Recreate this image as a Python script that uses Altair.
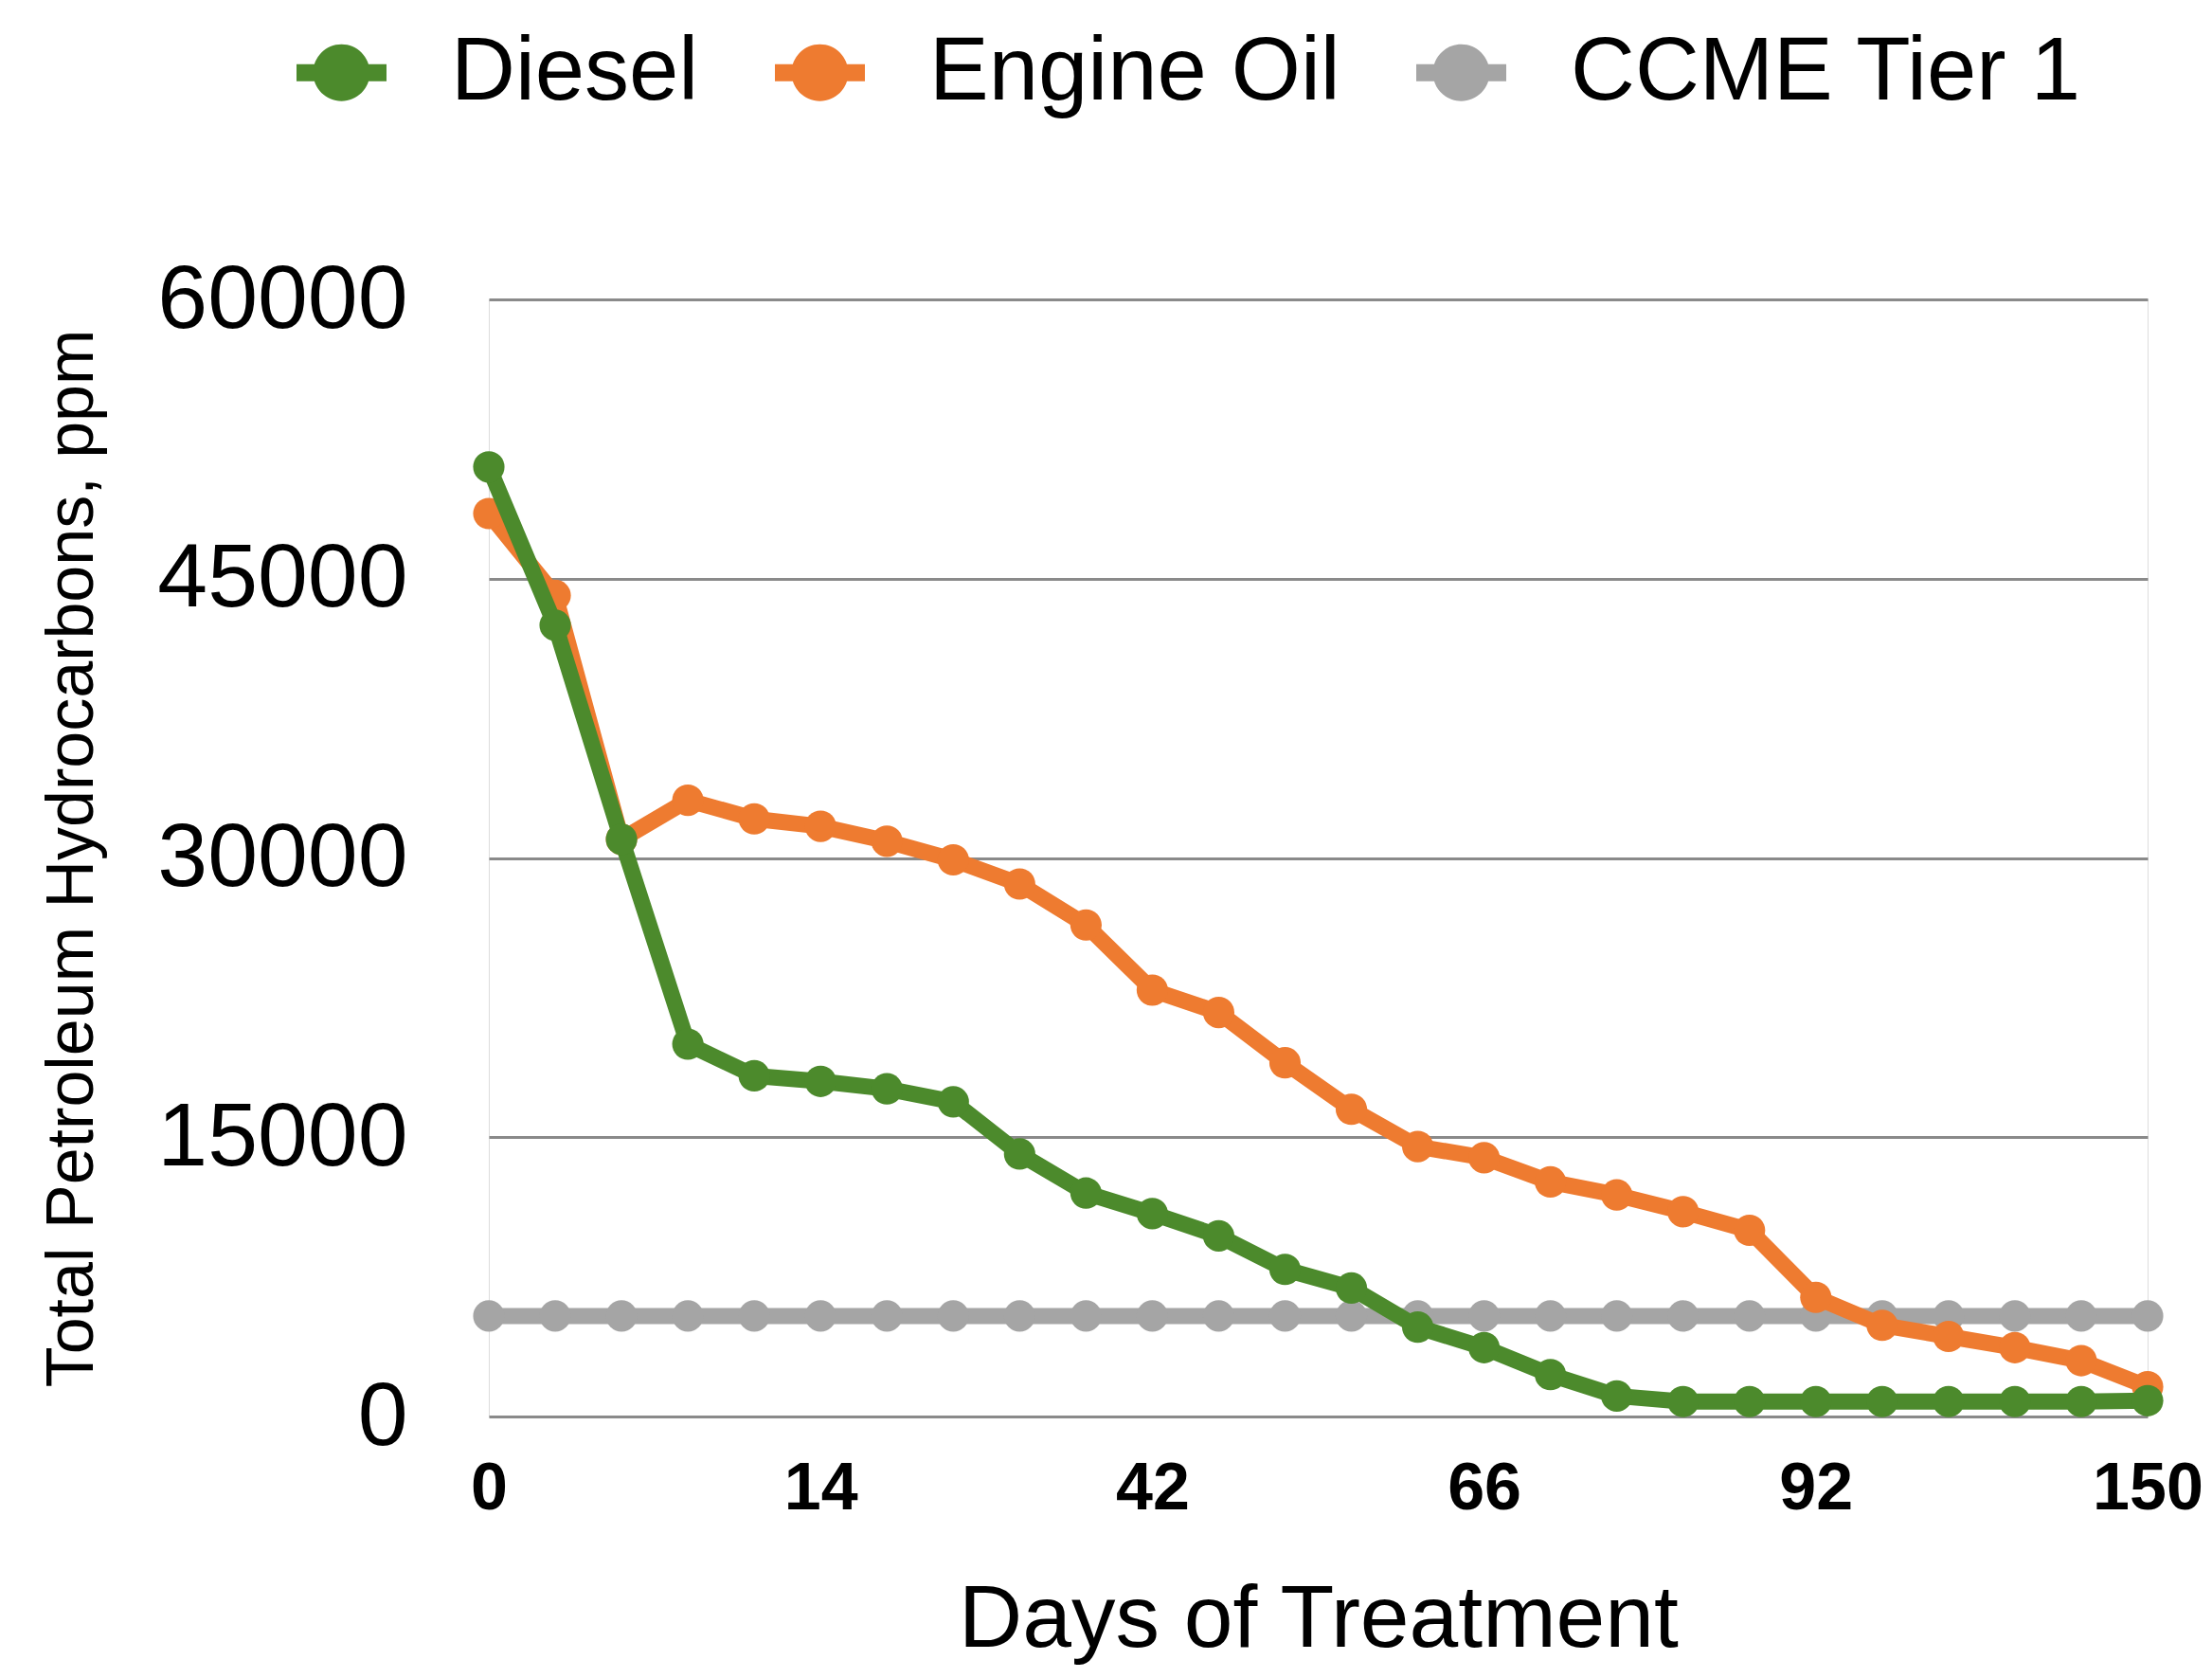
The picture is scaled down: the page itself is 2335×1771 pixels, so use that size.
import altair as alt
import pandas as pd

# ---- data ----
point_index = list(range(26))
tick_index = [0, 5, 10, 15, 20, 25]
tick_labels = ["0", "14", "42", "66", "92", "150"]

diesel = [51000, 42500, 31000, 20000, 18300, 18000, 17600, 16900, 14100, 12000,
          10900, 9700, 7900, 6900, 4800, 3700, 2250, 1100, 800, 800,
          800, 800, 800, 800, 800, 850]
engine_oil = [48500, 44100, 31000, 33100, 32100, 31700, 30900, 29900, 28600, 26400,
              22900, 21700, 19000, 16500, 14500, 13900, 12600, 11900, 11000, 10000,
              6400, 4900, 4300, 3700, 3000, 1600]
ccme = [5400, 5400, 5400, 5400, 5400, 5400, 5400, 5400, 5400, 5400,
        5400, 5400, 5400, 5400, 5400, 5400, 5400, 5400, 5400, 5400,
        5400, 5400, 5400, 5400, 5400, 5400]

series_names = ["Diesel", "Engine Oil", "CCME Tier 1"]
series_colors = ["#4c8a2c", "#ee7b30", "#a5a5a5"]

rows = []
for name, vals in zip(series_names, [diesel, engine_oil, ccme]):
    for i, v in zip(point_index, vals):
        rows.append({"idx": i, "value": v, "series": name})
df = pd.DataFrame(rows)

label_expr = " : ".join(
    [f"datum.value == {i} ? '{l}'" for i, l in zip(tick_index, tick_labels)]
) + " : ''"

FONT = "Liberation Sans"
W, H = 1751, 1179

legend_symbol = (
    "M-1,-0.19 L1,-0.19 L1,0.19 L-1,0.19 Z "
    "M0.63,0 A0.63,0.63 0 1,1 -0.63,0 A0.63,0.63 0 1,1 0.63,0 Z"
)

color = alt.Color(
    "series:N",
    scale=alt.Scale(domain=series_names, range=series_colors),
    sort=series_names,
    legend=alt.Legend(
        title=None,
        orient="none",
        direction="horizontal",
        legendX=-203,
        legendY=-287,
        symbolType=legend_symbol,
        symbolSize=9025,
        symbolStrokeWidth=0,
        symbolOpacity=1,
        labelFont=FONT,
        labelFontSize=94,
        labelColor="black",
        labelOffset=68,
        columnPadding=80,
        labelLimit=1000,
    ),
)

x = alt.X(
    "idx:Q",
    scale=alt.Scale(domain=[0, 25], nice=False, zero=False),
    axis=alt.Axis(
        values=tick_index,
        labelExpr=label_expr,
        title="Days of Treatment",
        titleFont=FONT,
        titleFontSize=93,
        titleFontWeight="normal",
        titleColor="black",
        titlePadding=58,
        labelFont=FONT,
        labelFontSize=70,
        labelFontWeight="bold",
        labelColor="black",
        labelPadding=42,
        labelFlush=False,
        labelBound=False,
        labelOverlap=False,
        labelLimit=1000,
        grid=False,
        ticks=False,
        domain=False,
    ),
)

y = alt.Y(
    "value:Q",
    scale=alt.Scale(domain=[0, 60000], nice=False),
    axis=alt.Axis(
        values=[0, 15000, 30000, 45000, 60000],
        format="d",
        title="Total  Petroleum Hydrocarbons, ppm",
        titleFont=FONT,
        titleFontSize=70,
        titleFontWeight="normal",
        titleColor="black",
        titleAngle=270,
        titleX=-440,
        titleY=H / 2,
        titleAlign="center",
        titleBaseline="middle",
        titleLimit=2000,
        labelFont=FONT,
        labelFontSize=95,
        labelColor="black",
        labelPadding=86,
        labelLimit=1000,
        grid=True,
        gridColor="#8a8a8a",
        gridWidth=3,
        ticks=False,
        domain=False,
    ),
)

layers = []
for name in ["CCME Tier 1", "Engine Oil", "Diesel"]:
    base = alt.Chart(df).transform_filter(alt.datum.series == name)
    line = base.mark_line(strokeWidth=17, strokeJoin="round").encode(x=x, y=y, color=color)
    pts = base.mark_circle(size=1100, opacity=1).encode(x=x, y=y, color=color)
    layers += [line, pts]

chart = alt.layer(*layers).properties(
    width=W,
    height=H,
    autosize=alt.AutoSizeParams(type="none"),
    padding={"left": 508, "top": 308, "right": 60, "bottom": 268},
).configure_view(stroke=None).configure(background="white")

chart.save("out.html", embed_options={"renderer": "svg", "actions": False})
